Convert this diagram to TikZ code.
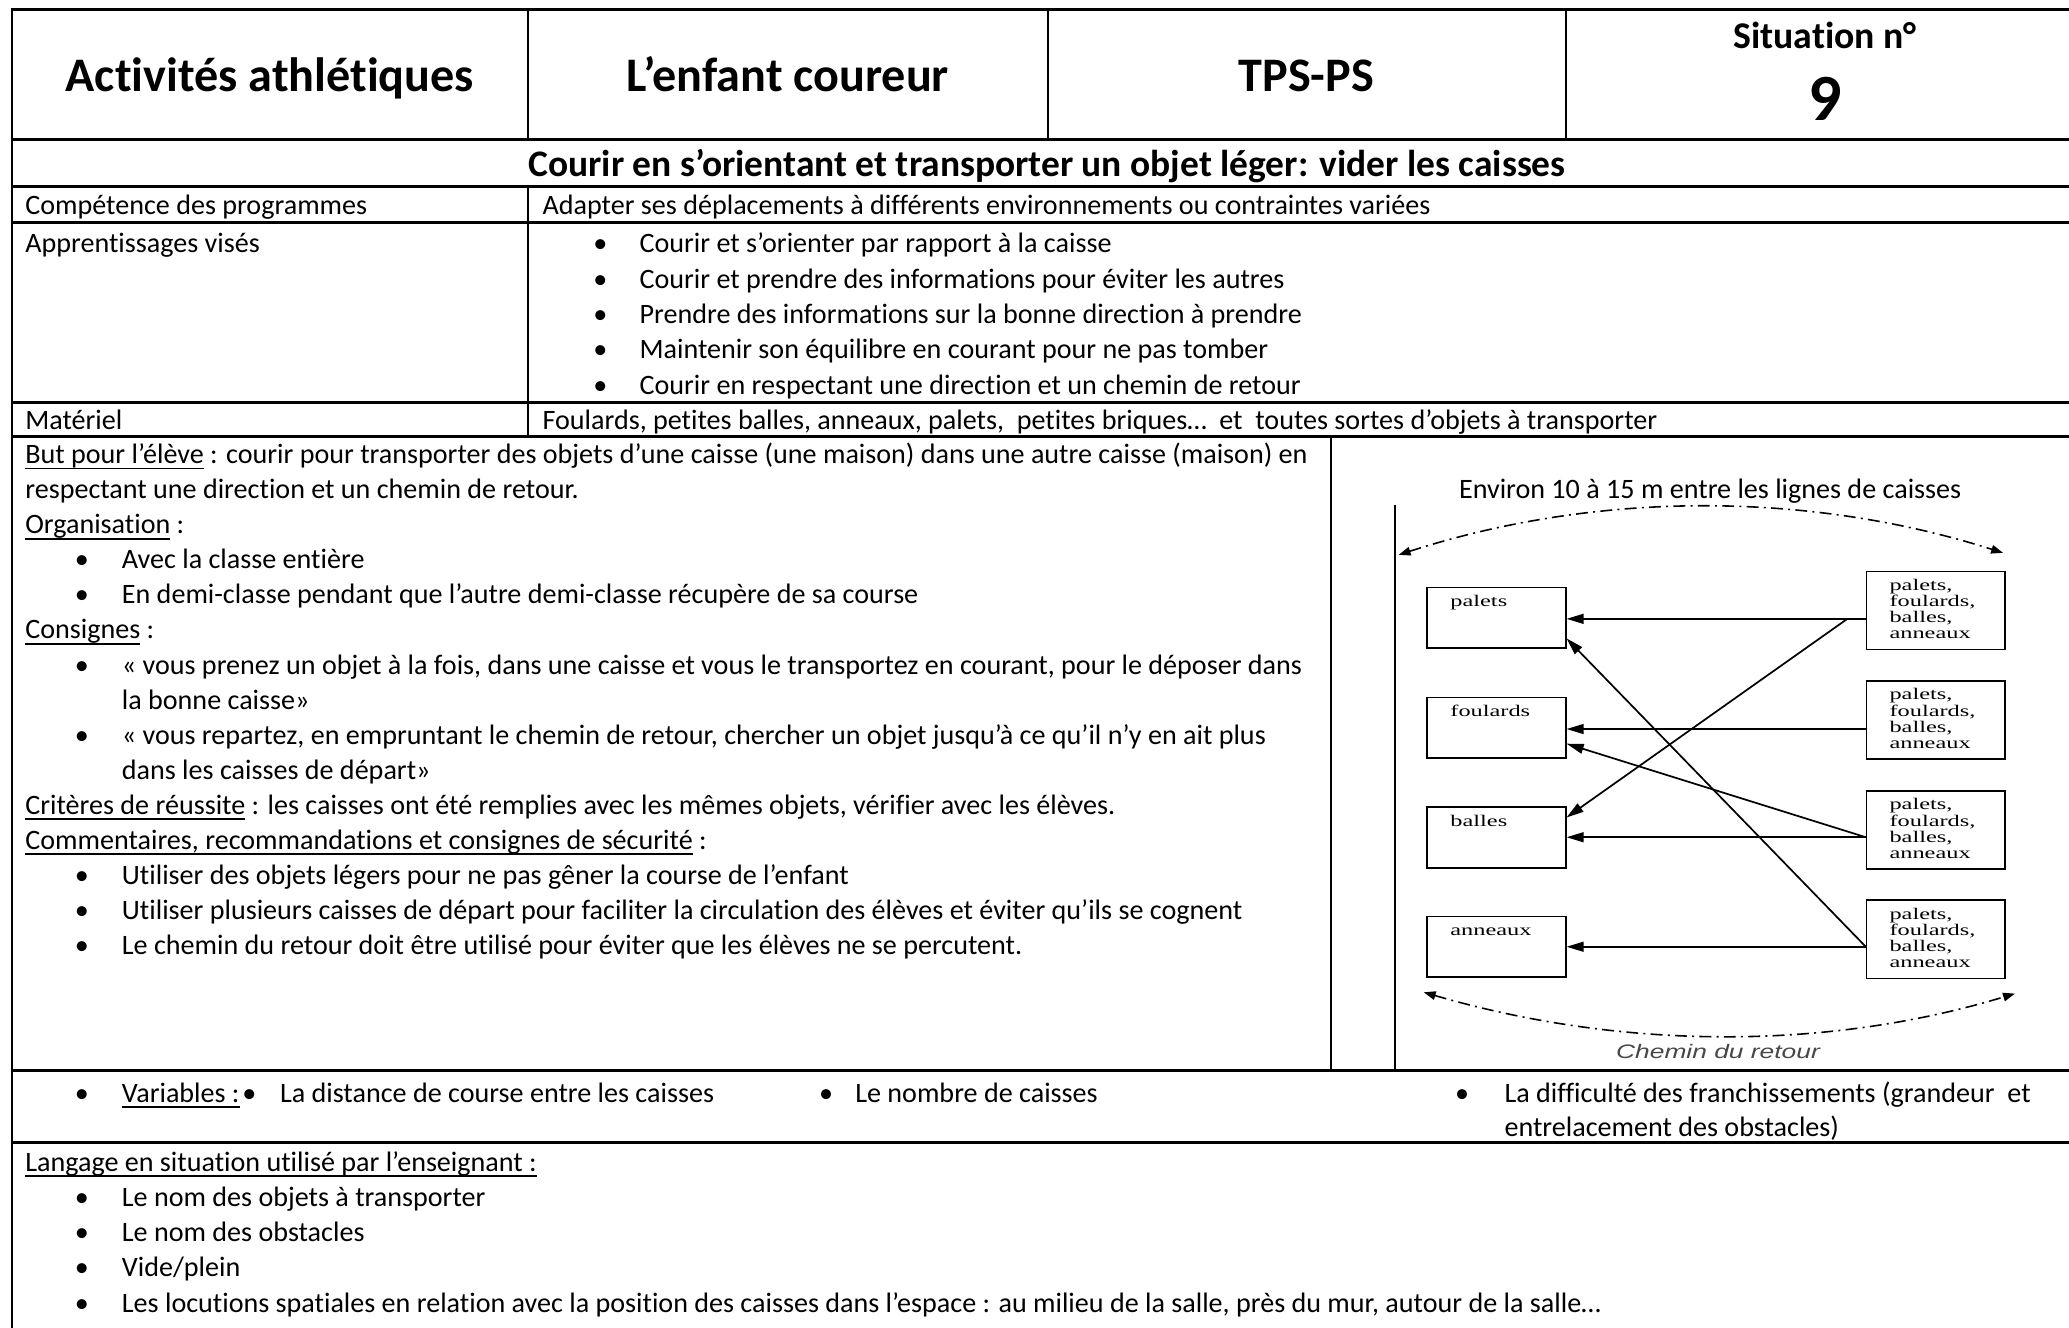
\documentclass[tikz,border=0pt]{standalone}
\usepackage{fontspec}
\usepackage{graphicx}
\setmainfont{Carlito}[Ligatures=NoCommon]
\newfontfamily\dgfont{Liberation Serif}
\newfontfamily\chfont{Liberation Sans}
\usetikzlibrary{arrows.meta}
\newcommand\bodyf{\fontsize{21.3pt}{26.6pt}\selectfont}
\newcommand\hdrf{\fontsize{36.5pt}{40pt}\selectfont\bfseries}
\newcommand\titf{\fontsize{28.4pt}{32pt}\selectfont\bfseries}
\newcommand\myul[1]{\setbox0\hbox{#1}\rlap{\vrule height -2.8pt depth 4.3pt width \wd0}\box0{}}
\newcommand\dgtxt[1]{\scalebox{1.5}[1]{\dgfont\fontsize{12.3pt}{12.2pt}\selectfont #1}}
\tikzset{
  txt/.style={anchor=base west, inner sep=0pt, font=\bodyf},
  bulc/.style={anchor=base, inner sep=0pt, font=\bodyf},
  hl/.style={line width=2.2pt},
  vl/.style={line width=1.5pt},
  lbox/.style={draw, line width=1.2pt, minimum width=105.3pt, minimum height=46pt, inner sep=0pt, anchor=north west},
  rbox/.style={draw, line width=1.2pt, minimum width=105pt, minimum height=59.2pt, inner sep=0pt, anchor=north west},
  dglab/.style={anchor=base west, inner sep=0pt},
  arr/.style={line width=1.3pt, -{Triangle[length=13pt,width=7.5pt]}},
  arcline/.style={line width=1.2pt, dash pattern=on 9pt off 4pt on 1.5pt off 4pt,
     {Triangle[length=9pt,width=6.5pt]}-{Triangle[length=9pt,width=6.5pt]}},
}
\begin{document}
\begin{tikzpicture}[x=1pt,y=-1pt]
\fill[white] (0,0) rectangle (1568,1006);
\useasboundingbox (0,0) rectangle (1568,1006);

% ---------- table lines ----------
\foreach \yy in {7.5,106,141,168.5,305,331,811,865.5}
  \draw[hl] (8.8,\yy) -- (1570,\yy);
\draw[vl] (8.8,6.4) -- (8.8,1008);
\foreach \xx in {400,794,1186.5}
  \draw[vl] (\xx,7.5) -- (\xx,106);
\draw[vl] (400,141) -- (400,331);
\draw[vl] (1008.5,331) -- (1008.5,811);

% ---------- header ----------
\node[anchor=base, inner sep=0pt, font=\hdrf] (h1) at (204.5,69.5) {Activités athlétiques};
\node[anchor=base, inner sep=0pt, font=\hdrf] (h2) at (597,69.5) {L’enfant coureur};
\node[anchor=base, inner sep=0pt, font=\hdrf] (h3) at (990,69.5) {TPS-PS};
\node[anchor=base, inner sep=0pt, font=\fontsize{28.6pt}{30pt}\selectfont\bfseries] (h4) at (1383,37) {Situation n°};
\node[anchor=base, inner sep=0pt, font=\fontsize{50pt}{54pt}\selectfont\bfseries] (h5) at (1383,91) {9};
\node[anchor=base, inner sep=0pt, font=\titf] (tit) at (793.5,134) {Courir en s’orientant et transporter un objet léger: vider les caisses};

% ---------- rows ----------
\node[txt] (c1) at (19,162.5) {Compétence des programmes};
\node[txt] (c2) at (411,162.5) {Adapter ses déplacements à différents environnements ou contraintes variées};
\node[txt] (a0) at (19,191.5) {Apprentissages visés};
\foreach \k/\t in {0/Courir et s’orienter par rapport à la caisse,
                   1/Courir et prendre des informations pour éviter les autres,
                   2/Prendre des informations sur la bonne direction à prendre,
                   3/Maintenir son équilibre en courant pour ne pas tomber,
                   4/Courir en respectant une direction et un chemin de retour}{
  \node[bulc] (ab\k) at (455,191.5+26.8*\k) {•};
  \node[txt] (at\k) at (484.5,191.5+26.8*\k) {\t};
}
\node[txt] (m0) at (19,325.5) {Matériel};
\node[txt] (m1) at (411,325.5) {Foulards, petites balles, anneaux, palets,\ \ petites briques…\ \ et\ \ toutes sortes d’objets à transporter};

% ---------- big cell ----------
\def\lb#1{351.5+26.55*#1}
\node[txt] (b0) at (19,{\lb{0}}) {\myul{But pour l’élève} : courir pour transporter des objets d’une caisse (une maison) dans une autre caisse (maison) en};
\node[txt] (b1) at (19,{\lb{1}}) {respectant une direction et un chemin de retour.};
\node[txt] (b2) at (19,{\lb{2}}) {\myul{Organisation} :};
\node[bulc] (bb3) at (62,{\lb{3}}) {•};
\node[txt] (b3) at (92.2,{\lb{3}}) {Avec la classe entière};
\node[bulc] (bb4) at (62,{\lb{4}}) {•};
\node[txt] (b4) at (92.2,{\lb{4}}) {En demi-classe pendant que l’autre demi-classe récupère de sa course};
\node[txt] (b5) at (19,{\lb{5}}) {\myul{Consignes} :};
\node[bulc] (bb6) at (62,{\lb{6}}) {•};
\node[txt] (b6) at (92.2,{\lb{6}}) {« vous prenez un objet à la fois, dans une caisse et vous le transportez en courant, pour le déposer dans};
\node[txt] (b7) at (92.2,{\lb{7}}) {la bonne caisse»};
\node[bulc] (bb8) at (62,{\lb{8}}) {•};
\node[txt] (b8) at (92.2,{\lb{8}}) {« vous repartez, en empruntant le chemin de retour, chercher un objet jusqu’à ce qu’il n’y en ait plus};
\node[txt] (b9) at (92.2,{\lb{9}}) {dans les caisses de départ»};
\node[txt] (b10) at (19,{\lb{10}}) {\myul{Critères de réussite} : les caisses ont été remplies avec les mêmes objets, vérifier avec les élèves.};
\node[txt] (b11) at (19,{\lb{11}}) {\myul{Commentaires, recommandations et consignes de sécurité} :};
\node[bulc] (bb12) at (62,{\lb{12}}) {•};
\node[txt] (b12) at (92.2,{\lb{12}}) {Utiliser des objets légers pour ne pas gêner la course de l’enfant};
\node[bulc] (bb13) at (62,{\lb{13}}) {•};
\node[txt] (b13) at (92.2,{\lb{13}}) {Utiliser plusieurs caisses de départ pour faciliter la circulation des élèves et éviter qu’ils se cognent};
\node[bulc] (bb14) at (62,{\lb{14}}) {•};
\node[txt] (b14) at (92.2,{\lb{14}}) {Le chemin du retour doit être utilisé pour éviter que les élèves ne se percutent.};

% ---------- diagram ----------
\node[anchor=base, inner sep=0pt, font=\bodyf] (env) at (1296,378) {Environ 10 à 15 m entre les lignes de caisses};
\draw[line width=1.2pt] (1057,383) -- (1057,811);
\foreach \n/\yy/\lab in {1/444.5/palets, 2/528/foulards, 3/611/balles, 4/694/anneaux}{
  \node[lbox] (l\n) at (1080.7,\yy) {};
  \node[dglab] (lt\n) at (1099,\yy+15) {\dgtxt{\lab}};
}
\foreach \n/\yy in {1/432.5, 2/515.4, 3/598.7, 4/681.6}{
  \node[rbox] (r\n) at (1414,\yy) {};
  \node[dglab] (rt\n) at (1431.8,\yy+15) {\dgtxt{\begin{tabular}[t]{@{}l@{}}palets,\\foulards,\\balles,\\anneaux\end{tabular}}};
}
\coordinate (ya) at (0,469);
\coordinate (yb) at (0,552.5);
\coordinate (yc) at (0,634.5);
\coordinate (yd) at (0,717.5);
\coordinate (ye) at (0,619.5);
\coordinate (yf) at (0,483.8);
\coordinate (yg) at (0,563.6);
\coordinate (br) at (1400,469);
\draw[arr] (r1.west |- ya) -- (l1.east |- ya);
\draw[arr] (r2.west |- yb) -- (l2.east |- yb);
\draw[arr] (r3.west |- yc) -- (l3.east |- yc);
\draw[arr] (r4.west |- yd) -- (l4.east |- yd);
\draw[arr] (br) -- (l3.east |- ye);
\draw[arr] (r4.west |- yd) -- (l1.east |- yf);
\draw[arr] (r3.west |- yc) -- (l2.east |- yg);

\draw[arcline] (1060,420.5) .. controls (1210,372) and (1370,372) .. (1518,419);
\draw[arcline] (1079,752) .. controls (1230,796) and (1385,796) .. (1527,753);
\node[anchor=base, inner sep=0pt, text=black!72] (chem) at (1302,802.5) {\scalebox{1.35}[1]{\chfont\itshape\fontsize{14.8pt}{16pt}\selectfont Chemin du retour}};

% ---------- variables row ----------
\node[bulc] (vb0) at (62,835.5) {•};
\node[txt] (v0) at (92.2,835.5) {\myul{Variables :}};
\node[bulc] (vb1) at (189,835.5) {•};
\node[txt] (v1) at (212,835.5) {La distance de course entre les caisses};
\node[bulc] (vb2) at (626,835.5) {•};
\node[txt] (v2) at (648,835.5) {Le nombre de caisses};
\node[bulc] (vb3) at (1108,835.5) {•};
\node[txt] (v3) at (1140,835.5) {La difficulté des franchissements (grandeur\ \ et};
\node[txt] (v4) at (1140,861.5) {entrelacement des obstacles)};

% ---------- langage ----------
\node[txt] (g0) at (19,887.5) {\myul{Langage en situation utilisé par l’enseignant :}};
\foreach \k/\t in {1/Le nom des objets à transporter,
                   2/Le nom des obstacles,
                   3/Vide{/}plein,
                   4/Les locutions spatiales en relation avec la position des caisses dans l’espace : au milieu de la salle{,} près du mur{,} autour de la salle…}{
  \node[bulc] (gb\k) at (62,887.5+26.7*\k) {•};
  \node[txt] (g\k) at (92.2,887.5+26.7*\k) {\t};
}
\end{tikzpicture}
\end{document}
